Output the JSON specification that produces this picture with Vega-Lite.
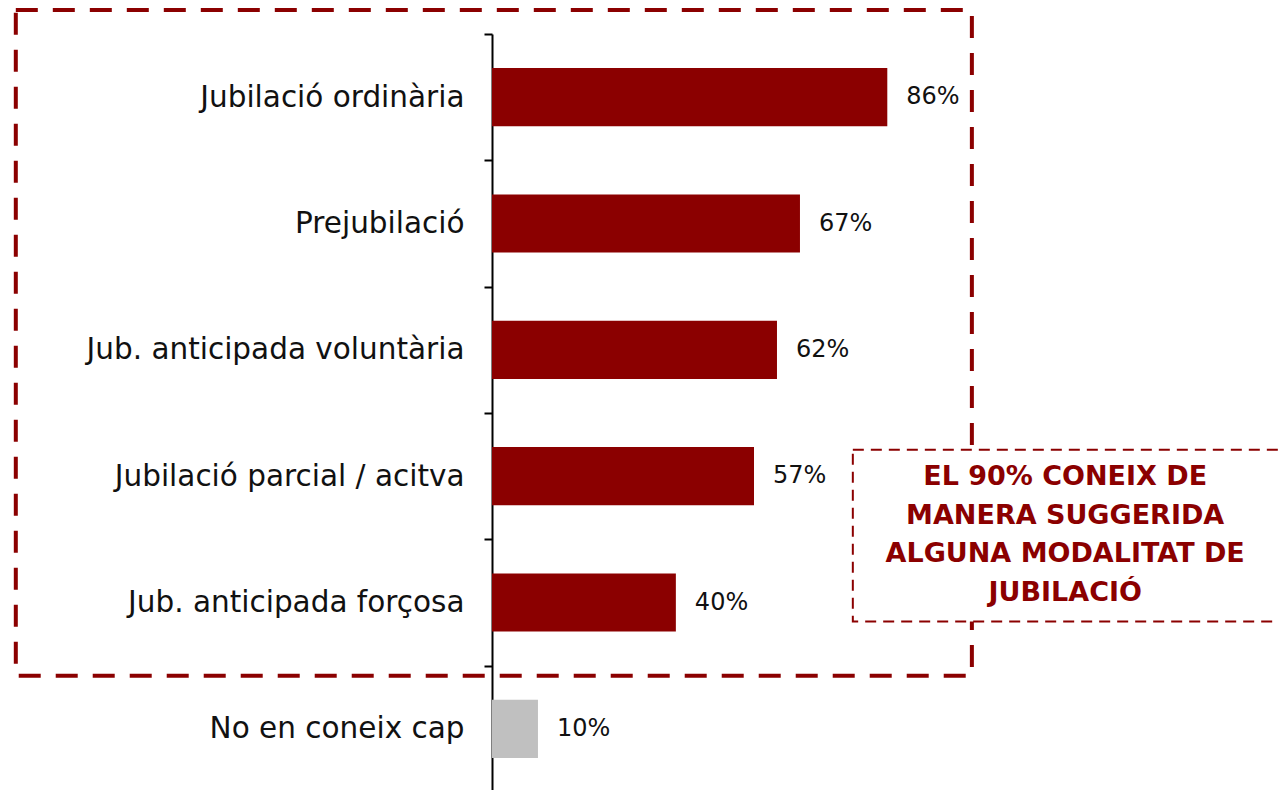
{
  "$schema": "https://vega.github.io/schema/vega-lite/v6.json",
  "autosize": "none",
  "padding": {"left": 492, "top": 34, "right": 0, "bottom": 0},
  "width": 786,
  "height": 758,
  "background": "white",
  "config": {"view": {"stroke": null}, "font": "DejaVu Sans"},
  "datasets": {
    "bars": [
      {"categoria": "Jubilació ordinària", "valor": 86, "etiqueta": "86%", "grup": "coneix"},
      {"categoria": "Prejubilació", "valor": 67, "etiqueta": "67%", "grup": "coneix"},
      {"categoria": "Jub. anticipada voluntària", "valor": 62, "etiqueta": "62%", "grup": "coneix"},
      {"categoria": "Jubilació parcial / acitva", "valor": 57, "etiqueta": "57%", "grup": "coneix"},
      {"categoria": "Jub. anticipada forçosa", "valor": 40, "etiqueta": "40%", "grup": "coneix"},
      {"categoria": "No en coneix cap", "valor": 10, "etiqueta": "10%", "grup": "cap"}
    ],
    "caixaGran": [{"x1": -103.6, "x2": 104.4, "y1": -0.19, "y2": 5.08}],
    "caixaPetita": [{"x1": 78.5, "x2": 172, "y1": 3.29, "y2": 4.65}],
    "nota": [{"x": 124.7, "y": 3.51, "text": "EL 90% CONEIX  DE\nMANERA SUGGERIDA\nALGUNA MODALITAT DE\nJUBILACIÓ"}]
  },
  "resolve": {"scale": {"y": "independent"}},
  "layer": [
    {
      "data": {"name": "caixaGran"},
      "mark": {"type": "rect", "fill": null, "stroke": "#8B0000", "strokeWidth": 4, "strokeDash": [22, 15], "clip": false},
      "encoding": {
        "x": {"field": "x1", "type": "quantitative", "scale": {"domain": [0, 171], "nice": false, "zero": false}, "axis": null},
        "x2": {"field": "x2"},
        "y": {"field": "y1", "type": "quantitative", "scale": {"domain": [0, 6], "reverse": true, "nice": false, "zero": false}, "axis": null},
        "y2": {"field": "y2"}
      }
    },
    {
      "data": {"name": "bars"},
      "encoding": {
        "y": {
          "field": "categoria", "type": "nominal", "sort": null,
          "scale": {"paddingInner": 0, "paddingOuter": 0},
          "axis": {
            "title": null, "domainColor": "#000000", "domainWidth": 2,
            "tickColor": "#000000", "tickWidth": 2, "tickSize": 8, "tickBand": "extent",
            "labelFontSize": 29.5, "labelColor": "#111111", "labelPadding": 20,
            "labelLimit": 500, "labelFont": "DejaVu Sans"
          }
        },
        "x": {"field": "valor", "type": "quantitative", "scale": {"domain": [0, 171], "nice": false, "zero": false}, "axis": null}
      },
      "layer": [
        {
          "mark": {"type": "bar", "height": {"band": 0.46}},
          "encoding": {
            "color": {"field": "grup", "type": "nominal", "scale": {"domain": ["coneix", "cap"], "range": ["#8B0000", "#C0C0C0"]}, "legend": null}
          }
        },
        {
          "mark": {"type": "text", "align": "left", "baseline": "middle", "dx": 19, "fontSize": 24, "color": "#111111"},
          "encoding": {"text": {"field": "etiqueta", "type": "nominal"}}
        }
      ]
    },
    {
      "data": {"name": "caixaPetita"},
      "mark": {"type": "rect", "fill": "white", "stroke": "#8B0000", "strokeWidth": 2, "strokeDash": [11, 7], "clip": false},
      "encoding": {
        "x": {"field": "x1", "type": "quantitative", "scale": {"domain": [0, 171], "nice": false, "zero": false}, "axis": null},
        "x2": {"field": "x2"},
        "y": {"field": "y1", "type": "quantitative", "scale": {"domain": [0, 6], "reverse": true, "nice": false, "zero": false}, "axis": null},
        "y2": {"field": "y2"}
      }
    },
    {
      "data": {"name": "nota"},
      "mark": {"type": "text", "align": "center", "baseline": "middle", "lineBreak": "\n", "lineHeight": 38.5, "fontSize": 27, "fontWeight": "bold", "color": "#8B0000"},
      "encoding": {
        "x": {"field": "x", "type": "quantitative", "scale": {"domain": [0, 171], "nice": false, "zero": false}, "axis": null},
        "y": {"field": "y", "type": "quantitative", "scale": {"domain": [0, 6], "reverse": true, "nice": false, "zero": false}, "axis": null},
        "text": {"field": "text", "type": "nominal"}
      }
    }
  ]
}
